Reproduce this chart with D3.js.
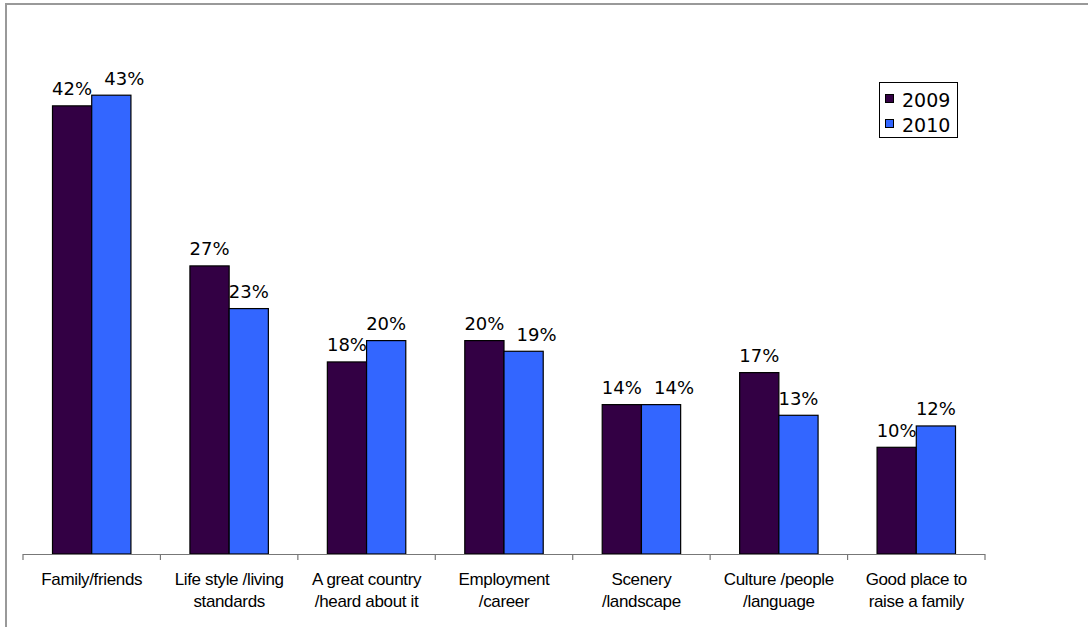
<!DOCTYPE html>
<html><head><meta charset="utf-8">
<script src="https://cdn.jsdelivr.net/npm/d3@7"></script>
<style>html,body{margin:0;padding:0;background:#fff;}svg{display:block;}</style>
</head><body>
<script>
const categories = [
  ["Family/friends"],
  ["Life style /living", "standards"],
  ["A great country", "/heard about it"],
  ["Employment", "/career"],
  ["Scenery", "/landscape"],
  ["Culture /people", "/language"],
  ["Good place to", "raise a family"]
];
const seriesNames = ["2009", "2010"];
const values2009 = [42, 27, 18, 20, 14, 17, 10];
const values2010 = [43, 23, 20, 19, 14, 13, 12];
const colors = ["#330044", "#3366FF"];

const W = 1088, H = 627;
const svg = d3.select("body").append("svg").attr("width", W).attr("height", H);

// outer chart border
svg.append("rect").attr("x", 6).attr("y", 4).attr("width", W + 10).attr("height", H + 10)
  .attr("fill", "#fff").attr("stroke", "#999").attr("stroke-width", 2);

const keys = categories.map((c, i) => i);
const x = d3.scaleBand().domain(keys).range([23, 985]).paddingInner(0).paddingOuter(0);
const step = x.bandwidth();
const xs = d3.scaleBand().domain(seriesNames).range([29.5, step - 29.5]);
const y = d3.scaleLinear().domain([0, 50]).range([554, 20.5]);

const data = keys.map(i => ({i, vals: [values2009[i], values2010[i]]}));

const g = svg.append("g");
data.forEach(d => {
  // labels that would collide: nudge the second one to the right
  const collide = Math.abs(y(d.vals[0]) - y(d.vals[1])) < 14;
  d.vals.forEach((v, s) => {
    const bx = x(d.i) + xs(seriesNames[s]);
    g.append("rect")
      .attr("x", bx).attr("y", y(v))
      .attr("width", xs.bandwidth()).attr("height", y(0) - y(v))
      .attr("fill", colors[s]).attr("stroke", "#000").attr("stroke-width", 1.2);
    const shift = (collide && s === 1) ? 13 : 0;
    g.append("text")
      .attr("x", bx + xs.bandwidth() / 2 + shift).attr("y", y(v) - 10.5)
      .attr("text-anchor", "middle")
      .attr("font-family", "DejaVu Sans, Verdana, sans-serif").attr("font-size", 18)
      .attr("fill", "#000").text(v + "%");
  });
});

// axis
const axis = d3.axisBottom(x).tickSize(0).tickFormat("");
const ag = svg.append("g").attr("transform", `translate(0,${y(0)})`).call(axis);
ag.select(".domain").attr("stroke", "#777").attr("stroke-width", 1.2).attr("d", `M23,0.5H985`);
const bounds = keys.map(k => x(k)).concat([x(keys[keys.length - 1]) + step]);
ag.selectAll(".bt").data(bounds).enter().append("line").attr("class", "bt")
  .attr("x1", d => d).attr("x2", d => d).attr("y1", 0).attr("y2", 6)
  .attr("stroke", "#777").attr("stroke-width", 1.2);

// category labels
categories.forEach((lines, i) => {
  const t = svg.append("text")
    .attr("x", x(i) + step / 2).attr("y", 585)
    .attr("text-anchor", "middle")
    .attr("font-family", "Liberation Sans, Arial, sans-serif").attr("font-size", 17)
    .attr("letter-spacing", -0.35).attr("fill", "#000");
  lines.forEach((l, j) => t.append("tspan").attr("x", x(i) + step / 2).attr("dy", j === 0 ? 0 : 22).text(l));
});

// legend
const lg = svg.append("g");
lg.append("rect").attr("x", 879.5).attr("y", 82.5).attr("width", 78).attr("height", 55)
  .attr("fill", "#fff").attr("stroke", "#000").attr("stroke-width", 1);
seriesNames.forEach((s, k) => {
  lg.append("rect").attr("x", 885.5).attr("y", 94.5 + k * 25).attr("width", 8).attr("height", 8)
    .attr("fill", colors[k]).attr("stroke", "#000").attr("stroke-width", 1);
  lg.append("text").attr("x", 902).attr("y", 107 + k * 25)
    .attr("font-family", "DejaVu Sans, Verdana, sans-serif").attr("font-size", 19)
    .attr("fill", "#000").text(s);
});
</script>
</body></html>
